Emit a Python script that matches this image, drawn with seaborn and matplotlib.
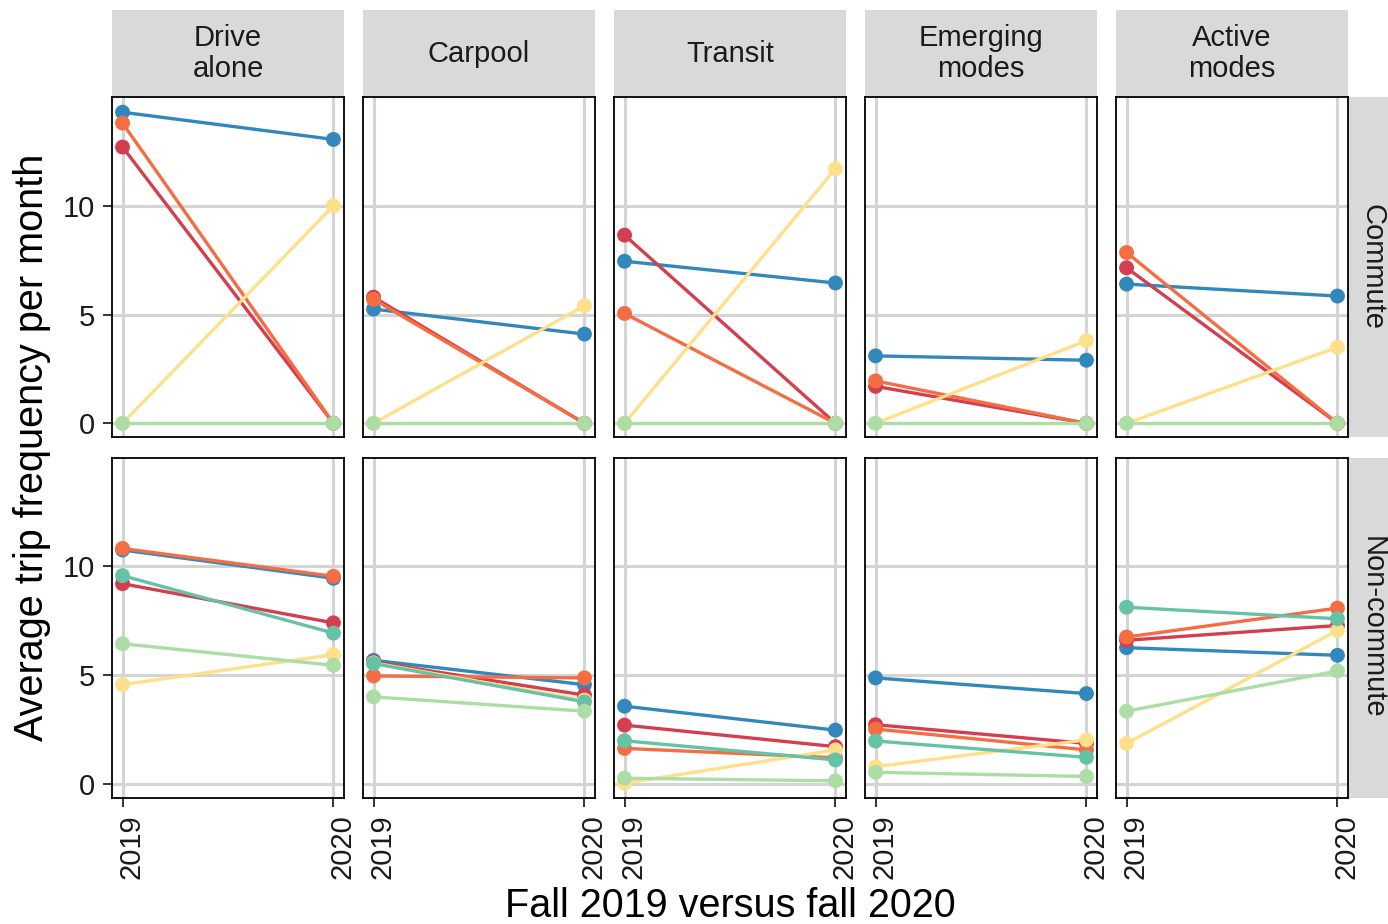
import numpy as np
import pandas as pd
import matplotlib
matplotlib.use("Agg")
import matplotlib.pyplot as plt
import matplotlib.transforms as mtransforms
from matplotlib.patches import Rectangle
import seaborn as sns

# ---- data -------------------------------------------------------------
years = [2019, 2020]
year_labels = ["2019", "2020"]
modes = ["Drive alone", "Carpool", "Transit", "Emerging modes", "Active modes"]
mode_labels = ["Drive\nalone", "Carpool", "Transit", "Emerging\nmodes", "Active\nmodes"]
trip_types = ["Commute", "Non-commute"]
groups = ["Group 1", "Group 2", "Group 3", "Group 4", "Group 5", "Group 6"]
group_colors = ["#3288BD", "#D53E4F", "#F46D43", "#FEE08B", "#66C2A5", "#ABDDA4"]

# Commute trips (values per mode, in the order of `modes`)
commute_g1_2019 = [14.3, 5.25, 7.45, 3.1, 6.4]
commute_g1_2020 = [13.05, 4.1, 6.45, 2.9, 5.85]
commute_g2_2019 = [12.7, 5.8, 8.65, 1.7, 7.15]
commute_g2_2020 = [0.0, 0.0, 0.0, 0.0, 0.0]
commute_g3_2019 = [13.8, 5.7, 5.05, 1.95, 7.85]
commute_g3_2020 = [0.0, 0.0, 0.0, 0.0, 0.0]
commute_g4_2019 = [0.0, 0.0, 0.0, 0.0, 0.0]
commute_g4_2020 = [10.0, 5.4, 11.7, 3.8, 3.5]
commute_g6_2019 = [0.0, 0.0, 0.0, 0.0, 0.0]
commute_g6_2020 = [0.0, 0.0, 0.0, 0.0, 0.0]

# Non-commute trips
noncommute_g1_2019 = [10.75, 5.68, 3.57, 4.87, 6.26]
noncommute_g1_2020 = [9.45, 4.56, 2.47, 4.15, 5.91]
noncommute_g2_2019 = [9.2, 5.6, 2.7, 2.72, 6.6]
noncommute_g2_2020 = [7.4, 4.08, 1.71, 1.86, 7.28]
noncommute_g3_2019 = [10.82, 4.96, 1.63, 2.52, 6.75]
noncommute_g3_2020 = [9.54, 4.87, 1.2, 1.56, 8.08]
noncommute_g4_2019 = [4.56, 5.56, 0.03, 0.79, 1.86]
noncommute_g4_2020 = [5.94, 3.85, 1.56, 2.02, 7.05]
noncommute_g5_2019 = [9.57, 5.53, 1.98, 1.97, 8.12]
noncommute_g5_2020 = [6.93, 3.77, 1.10, 1.22, 7.59]
noncommute_g6_2019 = [6.44, 4.0, 0.26, 0.53, 3.34]
noncommute_g6_2020 = [5.45, 3.34, 0.14, 0.34, 5.19]

series = {
    ("Commute", "Group 1"): (commute_g1_2019, commute_g1_2020),
    ("Commute", "Group 2"): (commute_g2_2019, commute_g2_2020),
    ("Commute", "Group 3"): (commute_g3_2019, commute_g3_2020),
    ("Commute", "Group 4"): (commute_g4_2019, commute_g4_2020),
    ("Commute", "Group 6"): (commute_g6_2019, commute_g6_2020),
    ("Non-commute", "Group 1"): (noncommute_g1_2019, noncommute_g1_2020),
    ("Non-commute", "Group 2"): (noncommute_g2_2019, noncommute_g2_2020),
    ("Non-commute", "Group 3"): (noncommute_g3_2019, noncommute_g3_2020),
    ("Non-commute", "Group 4"): (noncommute_g4_2019, noncommute_g4_2020),
    ("Non-commute", "Group 5"): (noncommute_g5_2019, noncommute_g5_2020),
    ("Non-commute", "Group 6"): (noncommute_g6_2019, noncommute_g6_2020),
}

rows = []
for (trip, grp), (v19, v20) in series.items():
    for m, a, b in zip(modes, v19, v20):
        rows.append(dict(trip=trip, mode=m, group=grp, year=years[0], value=a))
        rows.append(dict(trip=trip, mode=m, group=grp, year=years[1], value=b))
df = pd.DataFrame(rows)

# ---- style ------------------------------------------------------------
sns.set_theme(style="white")
plt.rcParams["font.family"] = ["Liberation Sans", "DejaVu Sans"]

palette = dict(zip(groups, group_colors))
text_col = "#1A1A1A"
grid_col = "#D4D4D4"
strip_col = "#D9D9D9"

W, H = 1388, 924
fig, axes = plt.subplots(2, 5, figsize=(W / 100, H / 100), dpi=100,
                         sharex=True, sharey=True)
fig.subplots_adjust(left=112 / W, right=1348 / W, top=1 - 97 / H,
                    bottom=1 - 798 / H, wspace=0.082, hspace=0.059)

# rotated year labels sit slightly to the right of their ticks
label_shift = mtransforms.ScaledTranslation(9 / 100, 0, fig.dpi_scale_trans)

for r, trip in enumerate(trip_types):
    for c, mode in enumerate(modes):
        ax = axes[r, c]
        sub = df[(df.trip == trip) & (df["mode"] == mode)]
        order = [g for g in groups if g in set(sub.group)]
        sns.lineplot(data=sub, x="year", y="value", hue="group",
                     hue_order=order, palette=palette, linewidth=2.4,
                     estimator=None, sort=False, legend=False, ax=ax)
        sns.scatterplot(data=sub, x="year", y="value", hue="group",
                        hue_order=order, palette=palette, s=115,
                        linewidth=0, legend=False, ax=ax, zorder=5)
        ax.set_xlim(2019 - 0.05, 2020 + 0.05)
        ax.set_ylim(-0.65, 15.0)
        ax.set_xticks(years, labels=year_labels)
        ax.set_yticks([0, 5, 10], labels=["0", "5", "10"])
        ax.set_xlabel("")
        ax.set_ylabel("")
        ax.set_axisbelow(True)
        ax.grid(True, color=grid_col, linewidth=2.2)
        for sp in ax.spines.values():
            sp.set_color("black")
            sp.set_linewidth(1.3)
        ax.tick_params(axis="both", which="both", length=6.5, width=1.4,
                       color="#333333", labelsize=21, labelcolor=text_col,
                       pad=5.5)
        ax.tick_params(axis="x", labelrotation=90, bottom=(r == 1),
                       labelbottom=(r == 1))
        ax.tick_params(axis="y", left=(c == 0), labelleft=(c == 0))
        for lab in ax.get_xticklabels():
            lab.set_verticalalignment("top")
            lab.set_transform(lab.get_transform() + label_shift)

# facet strips
for c, lab in enumerate(mode_labels):
    pos = axes[0, c].get_position()
    y0 = pos.y1
    h = 87 / H
    fig.add_artist(Rectangle((pos.x0, y0), pos.width, h,
                             transform=fig.transFigure, facecolor=strip_col,
                             edgecolor="none", zorder=0))
    fig.text(pos.x0 + pos.width / 2, y0 + h / 2, lab, ha="center", va="center",
             fontsize=21, color=text_col, linespacing=1.12)

for r, trip in enumerate(trip_types):
    pos = axes[r, 4].get_position()
    x0 = pos.x1 + 1 / W
    fig.add_artist(Rectangle((x0, pos.y0), 1 - x0, pos.height,
                             transform=fig.transFigure, facecolor=strip_col,
                             edgecolor="none", zorder=0))
    fig.text(1373 / W, pos.y0 + pos.height / 2, trip, ha="center",
             va="center", rotation=-90, fontsize=21, color=text_col)

fig.text(32 / W, 0.5 * ((1 - 97 / H) + (1 - 798 / H)),
         "Average trip frequency per month", rotation=90, ha="center",
         va="center", fontsize=28.5, color="black")
fig.text(0.5 * (112 + 1348) / W, 1 - 906 / H, "Fall 2019 versus fall 2020",
         ha="center", va="center", fontsize=28.5, color="black")

fig.savefig("out.png", dpi=100, facecolor="white")
